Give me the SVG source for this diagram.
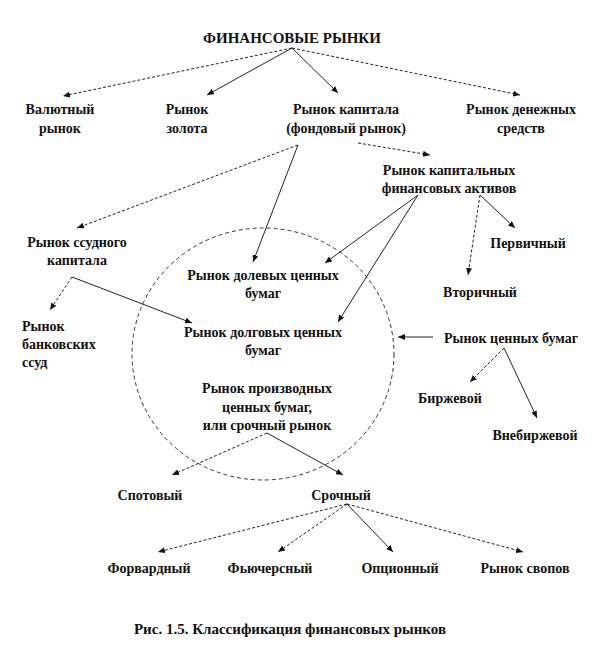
<svg xmlns="http://www.w3.org/2000/svg" width="612" height="660" viewBox="0 0 612 660">
<style>
text{font-family:"Liberation Serif","Times New Roman",serif;font-weight:bold;font-size:14px;fill:#111;text-anchor:middle}
.l{text-anchor:start}
.title{font-size:15px}
.cap{font-size:15px}
.e line{stroke:#222;stroke-width:1;marker-end:url(#ah)}
.e .d{stroke-dasharray:3,2}
.c{fill:none;stroke:#333;stroke-width:1;stroke-dasharray:4,3}
</style>
<defs>
<marker id="ah" markerWidth="8" markerHeight="6" refX="7" refY="3" orient="auto" markerUnits="userSpaceOnUse">
<path d="M0,0 L7,3 L0,6 z" fill="#111"/>
</marker>
</defs>
<rect width="612" height="660" fill="#fff"/>
<ellipse class="c" cx="263" cy="354" rx="131" ry="126"/>
<g class="e" id="connectors">
<line class="d" x1="292" y1="48" x2="63" y2="96"/>
<line x1="292" y1="48" x2="207" y2="95"/>
<line x1="292" y1="48" x2="338" y2="93"/>
<line class="d" x1="292" y1="48" x2="520" y2="95"/>
<line class="d" x1="298" y1="145" x2="77" y2="228"/>
<line x1="298" y1="145" x2="253" y2="262"/>
<line class="d" x1="358" y1="143" x2="430" y2="155"/>
<line x1="418" y1="195" x2="325" y2="263"/>
<line x1="418" y1="195" x2="338" y2="322"/>
<line class="d" x1="480" y1="195" x2="468" y2="275"/>
<line x1="480" y1="195" x2="515" y2="228"/>
<line class="d" x1="72" y1="277" x2="50" y2="310"/>
<line x1="72" y1="277" x2="192" y2="323"/>
<line x1="433" y1="337" x2="398" y2="337"/>
<line class="d" x1="504" y1="348" x2="470" y2="382"/>
<line x1="504" y1="348" x2="537" y2="418"/>
<line class="d" x1="267" y1="433" x2="172" y2="475"/>
<line x1="267" y1="433" x2="343" y2="475"/>
<line class="d" x1="347" y1="504" x2="158" y2="552"/>
<line class="d" x1="347" y1="504" x2="278" y2="552"/>
<line x1="347" y1="504" x2="393" y2="552"/>
<line class="d" x1="347" y1="504" x2="523" y2="552"/>
</g>
<g id="n-root"><text class="title" x="292" y="43">ФИНАНСОВЫЕ РЫНКИ</text></g>
<g id="n-currency"><text x="60" y="114">Валютный</text><text x="60" y="133">рынок</text></g>
<g id="n-gold"><text x="187" y="114">Рынок</text><text x="187" y="133">золота</text></g>
<g id="n-capital"><text x="346" y="114">Рынок капитала</text><text x="346" y="133">(фондовый рынок)</text></g>
<g id="n-money"><text x="521" y="114">Рынок денежных</text><text x="521" y="133">средств</text></g>
<g id="n-capassets"><text x="449" y="175">Рынок капитальных</text><text x="449" y="193">финансовых активов</text></g>
<g id="n-primary"><text x="528" y="248">Первичный</text></g>
<g id="n-secondary"><text x="480" y="297">Вторичный</text></g>
<g id="n-loan"><text x="77" y="247">Рынок ссудного</text><text x="77" y="265">капитала</text></g>
<g id="n-bank"><text class="l" x="22" y="331">Рынок</text><text class="l" x="22" y="349">банковских</text><text class="l" x="22" y="367">ссуд</text></g>
<g id="n-equity"><text x="263" y="280">Рынок долевых ценных</text><text x="263" y="298">бумаг</text></g>
<g id="n-debt"><text x="263" y="337">Рынок долговых ценных</text><text x="263" y="355">бумаг</text></g>
<g id="n-deriv"><text x="267" y="393">Рынок производных</text><text x="267" y="412">ценных бумаг,</text><text x="267" y="430">или срочный рынок</text></g>
<g id="n-securities"><text x="511" y="343">Рынок ценных бумаг</text></g>
<g id="n-exchange"><text x="450" y="403">Биржевой</text></g>
<g id="n-otc"><text x="535" y="440">Внебиржевой</text></g>
<g id="n-spot"><text x="150" y="500">Спотовый</text></g>
<g id="n-term"><text x="341" y="500">Срочный</text></g>
<g id="n-forward"><text x="149" y="573">Форвардный</text></g>
<g id="n-futures"><text x="270" y="573">Фьючерсный</text></g>
<g id="n-option"><text x="400" y="573">Опционный</text></g>
<g id="n-swap"><text x="525" y="573">Рынок свопов</text></g>
<g id="caption"><text class="cap" x="290" y="634">Рис. 1.5. Классификация финансовых рынков</text></g>
</svg>
